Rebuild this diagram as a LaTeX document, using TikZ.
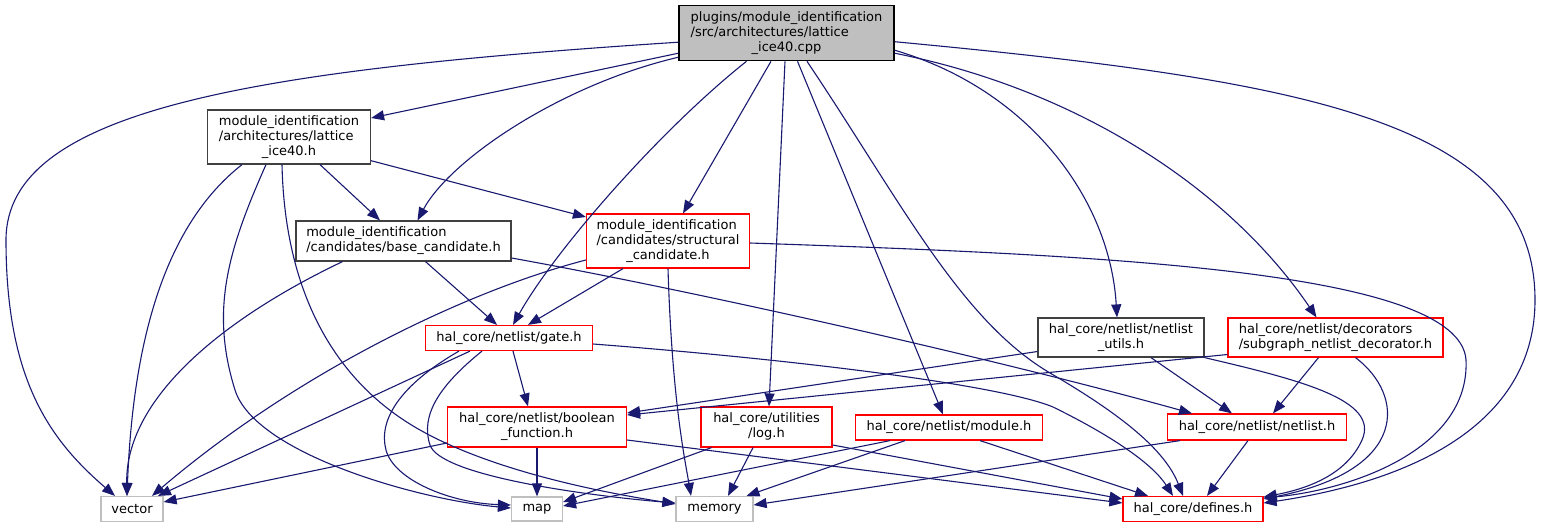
\documentclass[tikz,border=0pt]{standalone}
\usepackage{fontspec}
\setmainfont{DejaVu Sans}
\usetikzlibrary{arrows.meta}

\definecolor{edgeblue}{HTML}{191970}
\definecolor{boxgray}{HTML}{BFBFBF}
\definecolor{boxdark}{HTML}{404040}
\definecolor{boxred}{HTML}{FF0000}
\newcommand{\lastline}[1]{\multicolumn{1}{@{}c@{}}{#1}}

\tikzset{
  file/.style={draw, fill=white, line width=1.2pt, inner sep=0pt, font=\fontsize{13}{15}\selectfont},
  topfile/.style={file, draw=black, fill=boxgray},
  docfile/.style={file, draw=boxdark},
  redfile/.style={file, draw=boxred},
  sysfile/.style={file, draw=boxgray},
  incl/.style={edgeblue, line width=1.1pt, -{Triangle[length=13pt,width=10pt]}}
}

\begin{document}
\begin{tikzpicture}[x=1pt,y=-1pt]
    \useasboundingbox (0,0) rectangle (1541,528);

    % Files
    \node[topfile, minimum width=215pt, minimum height=55pt] (cpp) at (786.5,33.2) {\begin{tabular}{@{}l@{}}plugins/module\_identification\\/src/architectures/lattice\\\lastline{\_ice40.cpp}\end{tabular}};
    \node[docfile, minimum width=163pt, minimum height=54pt] (lattice) at (289,137) {\begin{tabular}{@{}l@{}}module\_identification\\/architectures/lattice\\\lastline{\_ice40.h}\end{tabular}};
    \node[docfile, minimum width=215pt, minimum height=40pt] (basecand) at (403.5,241) {\begin{tabular}{@{}l@{}}module\_identification\\/candidates/base\_candidate.h\end{tabular}};
    \node[redfile, minimum width=163pt, minimum height=54pt] (structcand) at (668,241) {\begin{tabular}{@{}l@{}}module\_identification\\/candidates/structural\\\lastline{\_candidate.h}\end{tabular}};
    \node[redfile, minimum width=167pt, minimum height=25pt] (gate) at (509,338) {hal\_core/netlist/gate.h};
    \node[docfile, minimum width=166pt, minimum height=39pt] (utils) at (1121,337.5) {\begin{tabular}{@{}l@{}}hal\_core/netlist/netlist\\\lastline{\_utils.h}\end{tabular}};
    \node[redfile, minimum width=215pt, minimum height=39pt] (decorator) at (1335.5,337.5) {\begin{tabular}{@{}l@{}}hal\_core/netlist/decorators\\/subgraph\_netlist\_decorator.h\end{tabular}};
    \node[redfile, minimum width=179pt, minimum height=40pt] (boolfn) at (537,427) {\begin{tabular}{@{}l@{}}hal\_core/netlist/boolean\\\lastline{\_function.h}\end{tabular}};
    \node[redfile, minimum width=131pt, minimum height=40pt] (log) at (766.5,427) {\begin{tabular}{@{}l@{}}hal\_core/utilities\\\lastline{/log.h}\end{tabular}};
    \node[redfile, minimum width=187pt, minimum height=25pt] (module) at (949,427.5) {hal\_core/netlist/module.h};
    \node[redfile, minimum width=179pt, minimum height=26pt] (netlist) at (1257,427) {hal\_core/netlist/netlist.h};
    \node[sysfile, minimum width=62pt, minimum height=25pt] (vector) at (132,509) {vector};
    \node[sysfile, minimum width=51pt, minimum height=24pt] (map) at (537,509) {map};
    \node[sysfile, minimum width=77pt, minimum height=25pt] (memory) at (714.5,509) {memory};
    \node[redfile, minimum width=140pt, minimum height=25pt] (defines) at (1193,509) {hal\_core/defines.h};

    % Includes of the .cpp
    \draw[incl] ([yshift=-9]cpp.west) .. controls (250,70) and (6,110) .. (6,240) .. controls (6,380) and (50,440) .. ([xshift=-17]vector.north);
    \draw[incl] ([yshift=-20]cpp.west) -- ([yshift=19]lattice.east);
    \draw[incl] ([yshift=-24]cpp.west) .. controls (560,85) and (450,160) .. ([xshift=14]basecand.north);
    \draw[incl] ([xshift=-40]cpp.south) .. controls (660,130) and (555,250) .. ([xshift=4]gate.north);
    \draw[incl] ([xshift=-15.5]cpp.south) -- ([xshift=15]structcand.north);
    \draw[incl] ([xshift=-1.5]cpp.south) -- ([xshift=2.5]log.north);
    \draw[incl] ([xshift=11]cpp.south) -- ([xshift=-6]module.north);
    \draw[incl] ([xshift=20.5]cpp.south) .. controls (900,200) and (960,320) .. (1050,373) .. controls (1122,415) and (1165,450) .. ([xshift=-10]defines.north);
    \draw[incl] ([yshift=-17]cpp.east) .. controls (1030,90) and (1110,200) .. ([xshift=-4]utils.north);
    \draw[incl] ([yshift=-20]cpp.east) .. controls (1080,90) and (1230,190) .. ([xshift=-19]decorator.north);
    \draw[incl] ([yshift=-8.5]cpp.east) .. controls (1300,80) and (1535,120) .. (1535,300) .. controls (1535,420) and (1420,480) .. ([yshift=6]defines.east);

    % lattice_ice40.h
    \draw[incl] ([xshift=31]lattice.south) -- ([xshift=-23.5]basecand.north);
    \draw[incl] ([yshift=-23.7]lattice.east) -- ([yshift=24]structcand.west);
    \draw[incl] ([xshift=-47]lattice.south) .. controls (165,225) and (133,340) .. ([xshift=-5]vector.north);
    \draw[incl] ([xshift=-23]lattice.south) .. controls (228,250) and (210,310) .. (235,390) .. controls (255,454) and (420,500) .. ([yshift=1]map.west);
    \draw[incl] ([xshift=-7]lattice.south) .. controls (285,300) and (340,385) .. (420,430) .. controls (500,475) and (620,495) .. ([yshift=5]memory.west);

    % base_candidate.h
    \draw[incl] ([xshift=22]basecand.south) -- ([xshift=-12]gate.north);
    \draw[incl] ([xshift=-61]basecand.south) .. controls (220,320) and (125,400) .. ([xshift=-5]vector.north);
    \draw[incl] ([yshift=-17]basecand.east) .. controls (700,292) and (1000,360) .. ([xshift=-65]netlist.north);

    % structural_candidate.h
    \draw[incl] ([xshift=-45]structcand.south) -- ([xshift=19]gate.north);
    \draw[incl] ([yshift=-19]structcand.west) .. controls (470,290) and (300,370) .. ([xshift=20]vector.north);
    \draw[incl] (structcand.south) .. controls (672,400) and (685,460) .. ([xshift=-23.5]memory.north);
    \draw[incl] ([yshift=-2]structcand.east) .. controls (1100,255) and (1460,270) .. (1466,360) .. controls (1470,450) and (1350,490) .. ([yshift=11]defines.east);

    % gate.h
    \draw[incl] ([xshift=4]gate.south) -- ([xshift=-9]boolfn.north);
    \draw[incl] ([xshift=-39]gate.south) -- ([xshift=26]vector.north);
    \draw[incl] ([xshift=-50]gate.south) .. controls (400,385) and (378,420) .. (386,450) .. controls (394,480) and (450,503) .. ([yshift=4]map.west);
    \draw[incl] ([xshift=-27]gate.south) .. controls (440,385) and (420,415) .. (430,445) .. controls (440,475) and (580,495) .. ([yshift=6]memory.west);
    \draw[incl] ([yshift=-6]gate.east) .. controls (800,360) and (1000,385) .. (1053,407) .. controls (1100,430) and (1150,460) .. ([xshift=-20]defines.north);

    % boolean_function.h
    \draw[incl] (boolfn.south) -- (map.north);
    \draw[incl] ([yshift=-16]boolfn.west) -- ([yshift=7]vector.east);
    \draw[incl] ([yshift=-13]boolfn.east) -- ([yshift=6]defines.west);

    % log.h
    \draw[incl] ([xshift=-55]log.south) -- ([yshift=7]map.east);
    \draw[incl] ([xshift=-13.5]log.south) -- ([xshift=13.5]memory.north);
    \draw[incl] ([yshift=-18]log.east) -- ([yshift=10]defines.west);

    % module.h
    \draw[incl] ([xshift=-59]module.south) -- ([yshift=3]map.east);
    \draw[incl] ([xshift=-44]module.south) -- ([xshift=32]memory.north);
    \draw[incl] ([xshift=31]module.south) -- ([xshift=-45]defines.north);

    % netlist_utils.h
    \draw[incl] ([yshift=-14]utils.west) -- ([yshift=14]boolfn.east);
    \draw[incl] ([xshift=30]utils.south) -- ([xshift=-25]netlist.north);
    \draw[incl] (utils.south east) .. controls (1300,380) and (1380,400) .. (1362,440) .. controls (1345,478) and (1300,490) .. ([yshift=12]defines.east);

    % subgraph_netlist_decorator.h
    \draw[incl] ([yshift=-17]decorator.west) -- ([yshift=12]boolfn.east);
    \draw[incl] ([xshift=-17]decorator.south) -- ([xshift=16]netlist.north);
    \draw[incl] ([xshift=20]decorator.south) .. controls (1405,395) and (1410,470) .. ([yshift=10]defines.east);

    % netlist.h
    \draw[incl] ([xshift=-77]netlist.south) -- ([yshift=4]memory.east);
    \draw[incl] ([xshift=-9]netlist.south) -- ([xshift=14]defines.north);
\end{tikzpicture}
\end{document}
